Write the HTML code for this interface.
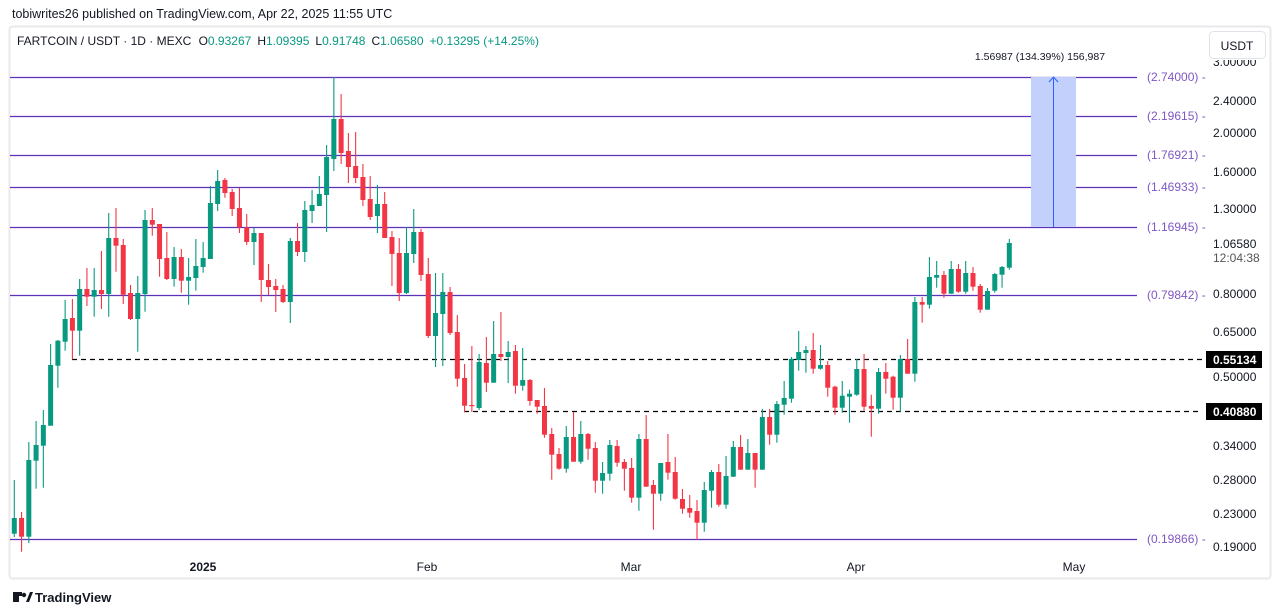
<!DOCTYPE html>
<html><head><meta charset="utf-8">
<style>
html,body{margin:0;padding:0;background:#fff;width:1281px;height:615px;overflow:hidden;font-family:"Liberation Sans","DejaVu Sans",sans-serif;}
svg text{font-family:"Liberation Sans","DejaVu Sans",sans-serif;}
</style></head>
<body>
<svg id="s" width="1281" height="615" viewBox="0 0 1281 615" xmlns="http://www.w3.org/2000/svg">
<rect x="0" y="0" width="1281" height="615" fill="#fff"/>
<text x="12" y="18" font-size="12.5" fill="#131722">tobiwrites26 published on TradingView.com, Apr 22, 2025 11:55 UTC</text>
<rect x="9.5" y="26.5" width="1261" height="552" rx="3" fill="#fff" stroke="#e9e9ec" stroke-width="2"/>
<text x="17" y="45" font-size="12" fill="#131722">FARTCOIN / USDT · 1D · MEXC  <tspan dx="4">O</tspan><tspan fill="#089981">0.93267</tspan><tspan dx="6">H</tspan><tspan fill="#089981">1.09395</tspan><tspan dx="6">L</tspan><tspan fill="#089981">0.91748</tspan><tspan dx="6">C</tspan><tspan fill="#089981">1.06580</tspan><tspan dx="6" fill="#089981">+0.13295 (+14.25%)</tspan></text>
<g id="lines"></g>
<g id="candles"></g>
<rect x="1031" y="77" width="45" height="150" fill="#c2d0fb"/>
<line x1="1053.5" y1="227" x2="1053.5" y2="78" stroke="#2962ff" stroke-width="1"/>
<path d="M1049 82 L1053.5 77 L1058 82" fill="none" stroke="#2962ff" stroke-width="1"/>
<text x="1040" y="60" font-size="10.5" text-anchor="middle" fill="#131722">1.56987 (134.39%) 156,987</text>
<g font-size="12" fill="#131722">
<text x="1213" y="66">3.00000</text>
<text x="1213" y="105">2.40000</text>
<text x="1213" y="137">2.00000</text>
<text x="1213" y="176">1.60000</text>
<text x="1213" y="213">1.30000</text>
<text x="1213" y="248">1.06580</text>
<text x="1213" y="262" fill="#555">12:04:38</text>
<text x="1213" y="298">0.80000</text>
<text x="1213" y="336">0.65000</text>
<text x="1213" y="381">0.50000</text>
<text x="1213" y="450">0.34000</text>
<text x="1213" y="484">0.28000</text>
<text x="1213" y="518">0.23000</text>
<text x="1213" y="551">0.19000</text>
</g>
<rect x="1206" y="28" width="62" height="32" fill="#fff"/>
<rect x="1209.5" y="31.5" width="56" height="27" rx="4" fill="#fff" stroke="#e0e3eb"/>
<text x="1237" y="50" font-size="12" text-anchor="middle" fill="#131722">USDT</text>
<rect x="1206" y="351" width="56" height="17" fill="#000"/>
<text x="1213" y="364" font-size="12" font-weight="bold" fill="#fff">0.55134</text>
<rect x="1206" y="403" width="56" height="17" fill="#000"/>
<text x="1213" y="416" font-size="12" font-weight="bold" fill="#fff">0.40880</text>
<g font-size="12" fill="#131722" text-anchor="middle">
<text x="203" y="571" font-weight="bold">2025</text>
<text x="427" y="571">Feb</text>
<text x="631" y="571">Mar</text>
<text x="856" y="571">Apr</text>
<text x="1074" y="571">May</text>
</g>
<g transform="translate(13,592)"><rect x="0" y="0" width="6" height="10" fill="#131722"/><rect x="0" y="0" width="9" height="4" fill="#131722"/><circle cx="11" cy="3" r="2.2" fill="#131722"/><path d="M13 10 L17 0 L20 0 L16 10Z" fill="#131722"/></g>
<text x="35" y="602" font-size="13" fill="#131722" font-weight="bold">TradingView</text>
</svg>
<script>
var NS="http://www.w3.org/2000/svg";
function el(t,a,p){var e=document.createElementNS(NS,t);for(var k in a)e.setAttribute(k,a[k]);p.appendChild(e);return e;}
var L=document.getElementById("lines");
var fib=[[77,"(2.74000)"],[116,"(2.19615)"],[155,"(1.76921)"],[187,"(1.46933)"],[227,"(1.16945)"],[295,"(0.79842)"],[539,"(0.19866)"]];
fib.forEach(function(f){el("line",{x1:10,y1:f[0]+.5,x2:1137,y2:f[0]+.5,stroke:"#5c33b8","stroke-width":1.3},L);
var t=el("text",{x:1147,y:f[0]+4,"font-size":12,fill:"#7e57c2"},L);t.textContent=f[1]+" -";});
el("line",{x1:72,y1:359.5,x2:1202,y2:359.5,stroke:"#000","stroke-width":1.3,"stroke-dasharray":"5 4"},L);
el("line",{x1:464,y1:411.5,x2:1202,y2:411.5,stroke:"#000","stroke-width":1.3,"stroke-dasharray":"5 4"},L);
var D=[[533.7,518,480,537],[518,536.7,512,551.7],[536.7,460,442,543],[460.7,445,421,488.7],[445.7,425,410,487.7],[425.7,365,344,425.7],[365.7,340.7,340,387.7],[341.7,319,300,350.7],[318,330.7,299,359.3],[330.7,289,279,355.7],
[289,296.7,268,306],[296.7,290,268,316.7],[290,294,251,309],[294,238,213,316.7],[238,245.7,208,271.7],[245,294.7,239,304],[293,319,285,320],[319,293,276,351.7],[294,220,210,311.7],[220,224.7,208,235.7],
[224,259,224,276.7],[258,279,232,280],[279,257,247,286.7],[257,280.7,249,292.7],[280.7,277,258,304.7],[278,266,239,290.7],[267,258,242,272.7],[259,203,186,259],[204,181,170,211],[180,193,178,197.7],
[192,209,189,216],[208,227.3,188,233],[227.3,242,214,245],[242,233,228,265],[233,280,233,302],[280,287,264,295],[286,290,279,312],[289,302,285,303],[302,241,238,323],[241,252,223,256],
[252,210,201,262],[211,205,190,223],[206,194,176,206],[195,157,145,232],[159,119,77,171],[119,153,94,164],[151,167,133,183],[166,178,132,183],[177,200,164,206],[199,217,176,220],
[216,204,185,233],[204,238,192,238],[237,254,231,286],[253,293,238,301],[293,253,227,294],[254,232,209,263],[232,275,229,281],[274,336,258,338],[336,313,273,367],[314,292,273,366],
[292,333,287,335],[332,378.7,315,386.7],[378,405.7,364,412.3],[405,405.7,346,412],[408,362,354,410],[363,382.7,337,392],[382.7,354,321,382.7],[354,357,312,361],[357,352,341,383],[351,385.7,345,393.7],
[385.7,380,348,390.7],[380,401,379,405.7],[400,406.7,400,413.7],[406,434.7,388,437.7],[434,454.7,428,479.7],[454,468.7,448,469.7],[468.7,437,426,472.7],[437,461.7,412,461.7],[461.7,434,421,463.7],[434,448.7,433,459.7],
[448,480.7,442,492.7],[480.7,473,462,493.7],[473.7,445,440,480.7],[446,462.7,440,466.7],[462,468.7,459,490.7],[468,497.7,458,502.7],[497.7,439,434,510.7],[439,486.7,415,486.7],[485,493.7,480,529.7],[493.7,463,463,500.7],
[462,472.7,434,479.7],[472,498.7,457,499.7],[499,508.7,489,513.7],[508,512.7,495,517.7],[511,522.7,500,540],[522.7,490,482,531.7],[490.7,472,470,507.7],[472,504.7,464,506.7],[504.7,476,456,508.7],[476.7,447,441,477],
[447,469.7,435,469.7],[469.7,453,439,469.7],[453,469.7,453,487.7],[469.7,417,409,469.7],[417,434.7,409,444.7],[434.7,404,401,442.7],[404.7,398,381,414.7],[398.7,359,357,402.7],[360,352,331,370.7],[353,350,346,372.7],
[350,368.7,333,373.7],[368.7,365,345,369.7],[365,387.7,361,396.7],[386.7,407.7,385.7,414.7],[407.7,395.7,381,412.7],[396.7,393.7,389.7,422.7],[394.7,369,359,395.7],[369,406.7,354,410.7],[406,408.7,394.7,436.7],[408.7,372,368,413.7],
[372,378.7,363,393.7],[376.7,397.7,375.7,409.7],[397.7,359,355,411.7],[359,373.7,339,373.7],[373.7,302,297,381.7],[302,304.7,297,322.7],[304.7,277,257,308.7],[277.7,275,261,287.7],[275,293.7,271,297.7],[293.7,269,261,293.7],
[269,291.7,264,292.7],[291.7,273,261,293.7],[273,286.7,267,290.7],[286,309.7,284,312.7],[309.7,291,288,309.7],[290.7,274,273,292.7],[274.7,267,266,287.7],[267.7,243,239,269.7]];
var C=document.getElementById("candles");
var n=D.length,x0=14.3,sp=(1009.3-14.3)/(n-1);
D.forEach(function(d,i){var x=x0+sp*i,o=d[0],c=d[1],h=d[2],l=d[3];var up=c<o;var col=up?"#089981":"#f23645";
el("line",{x1:x,y1:h,x2:x,y2:l,stroke:col,"stroke-width":1.1},C);
var top=Math.min(o,c),ht=Math.max(Math.abs(o-c),1.2);
el("rect",{x:x-2.5,y:top,width:5,height:ht,fill:col},C);});
</script>
</body></html>
